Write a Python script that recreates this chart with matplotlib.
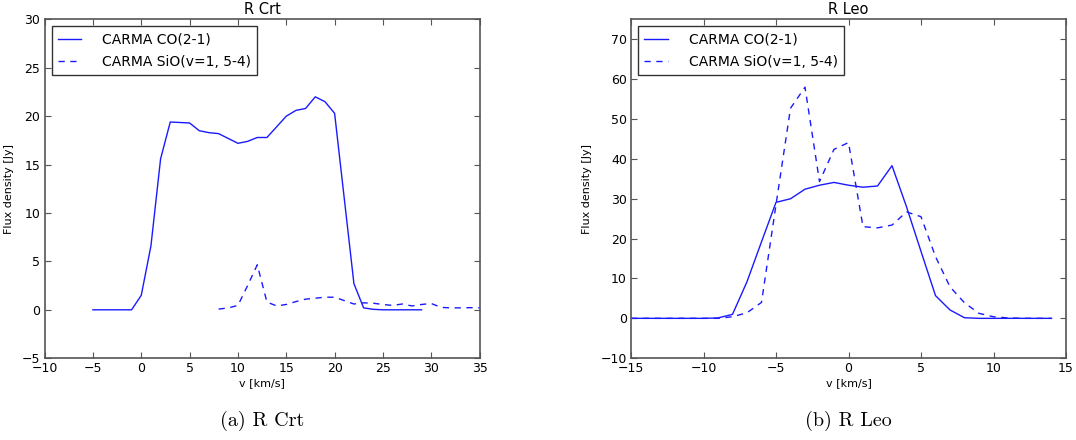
import matplotlib
matplotlib.use("Agg")
import matplotlib.pyplot as plt

# ---- R Crt data ----
crt_co_v = list(range(-5, 30))
crt_co_f = [0, 0, 0, 0, 0, 1.5, 6.6, 15.6, 19.4, 19.35, 19.3, 18.5, 18.3, 18.2, 17.7,
            17.2, 17.4, 17.8, 17.8, 18.9, 20.0, 20.6, 20.8, 22.0, 21.5, 20.3, 11.5, 2.7,
            0.2, 0.05, 0, 0, 0, 0, 0]
crt_sio_v = list(range(8, 36))
crt_sio_f = [0.07, 0.2, 0.45, 2.5, 4.65, 0.8, 0.4, 0.55, 0.85, 1.1, 1.2, 1.3, 1.3, 0.95,
             0.6, 0.72, 0.68, 0.55, 0.45, 0.6, 0.4, 0.55, 0.65, 0.25, 0.2, 0.2, 0.22, 0.2]

# ---- R Leo data ----
leo_co_v = list(range(-15, 15))
leo_co_f = [0, 0, 0, 0, 0, 0, 0.1, 1.0, 9.2, 19.2, 29.1, 30.0, 32.4, 33.4, 34.1, 33.4,
            32.9, 33.2, 38.3, 28.0, 16.8, 5.7, 2.1, 0.15, 0, 0, 0, 0, 0, 0]
leo_sio_v = list(range(-15, 15))
leo_sio_f = [0, 0, 0, 0, 0, 0, 0, 0.4, 1.4, 4.0, 28.5, 52.7, 58.0, 34.3, 42.4, 44.1,
             23.0, 22.7, 23.4, 26.7, 25.5, 15.5, 7.9, 3.9, 1.25, 0.4, 0.1, 0, 0, 0]

labels = ["CARMA CO(2-1)", "CARMA SiO(v=1, 5-4)"]
titles = ["R Crt", "R Leo"]
captions = ["(a) R Crt", "(b) R Leo"]
xlims = [(-10, 35), (-15, 15)]
ylims = [(-5, 30), (-10, 75)]
xticks = [list(range(-10, 36, 5)), list(range(-15, 16, 5))]
yticks = [list(range(-5, 31, 5)), list(range(-10, 71, 10))]

W, H = 1076, 440
fig = plt.figure(figsize=(W / 100, H / 100), dpi=100)
rects = [[44.6 / W, (H - 358.2) / H, 435 / W, 338.8 / H],
         [631 / W, (H - 358.2) / H, 435 / W, 338.8 / H]]
data = [(crt_co_v, crt_co_f, crt_sio_v, crt_sio_f),
        (leo_co_v, leo_co_f, leo_sio_v, leo_sio_f)]

spine_col = "#555555"
for i in range(2):
    ax = fig.add_axes(rects[i])
    cv, cf, sv, sf = data[i]
    ax.plot(cv, cf, color="#1a1aff", lw=1.0, label=labels[0])
    ax.plot(sv, sf, color="#1a1aff", lw=1.0, linestyle=(0, (4.5, 4)), label=labels[1])
    ax.set_xlim(*xlims[i])
    ax.set_ylim(*ylims[i])
    ax.set_xticks(xticks[i])
    ax.set_yticks(yticks[i])
    ax.tick_params(direction="in", top=True, right=True, length=4, width=0.8,
                   labelsize=9, color=spine_col, pad=3)
    for s in ax.spines.values():
        s.set_color(spine_col)
        s.set_linewidth(1.2)
    ax.set_title(titles[i], fontsize=10.5, pad=4)
    ax.set_xlabel("v [km/s]", fontsize=8, labelpad=2)
    ax.set_ylabel("Flux density [Jy]", fontsize=8, labelpad=6)
    leg = ax.legend(loc="upper left", fontsize=10, fancybox=False, framealpha=1,
                    handlelength=1.7, borderaxespad=0.5, handletextpad=1.5,
                    labelspacing=0.6, borderpad=0.45)
    leg.get_frame().set_edgecolor("#333333")
    leg.get_frame().set_linewidth(1.0)
    cx = rects[i][0] + rects[i][2] / 2
    fig.text(cx, 1 - 421 / H, captions[i], family="cmr10", fontsize=14.5,
             ha="center", va="center")

fig.savefig("out.png", dpi=100)
